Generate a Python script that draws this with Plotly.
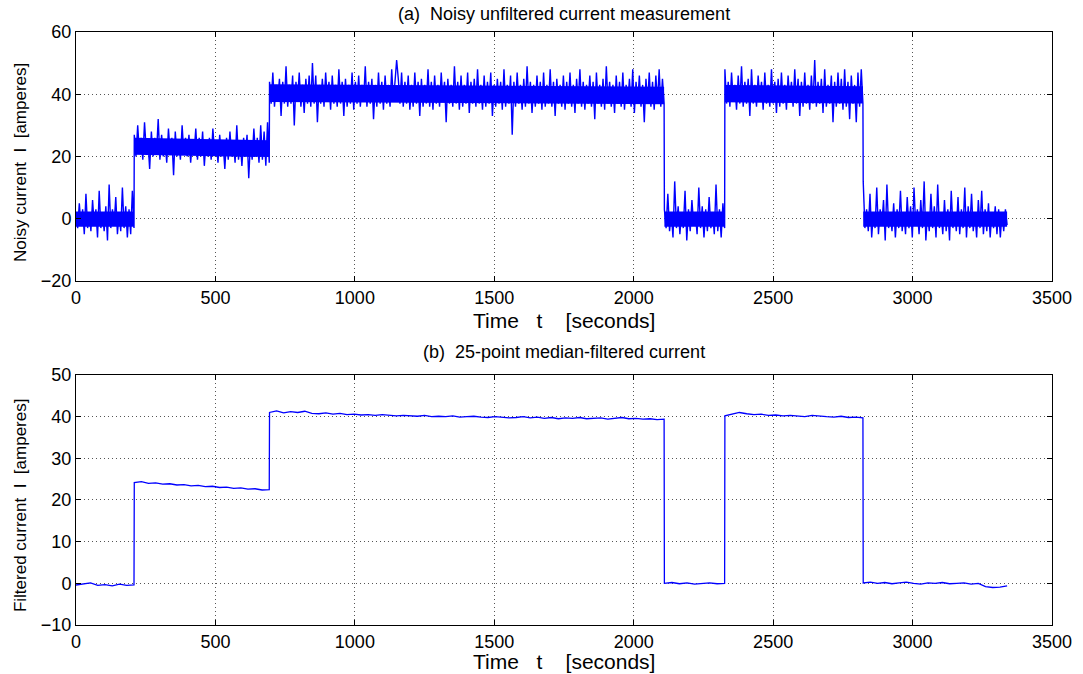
import numpy as np
import plotly.graph_objects as go

# ---------------- data ----------------
# segment boundaries in seconds (steps of the current)
seg_bounds = [0, 208, 693, 2109, 2326, 2822, 3339]

# dense core of the noisy band in each segment [A] (value at segment start / end)
core_lo_start = [-2.6, 20.6, 37.5, -2.6, 37.4, -2.6]
core_lo_end = [-2.6, 19.8, 36.8, -2.6, 37.0, -2.6]
core_hi_start = [2.3, 26.0, 43.2, 2.3, 43.0, 2.3]
core_hi_end = [2.3, 25.2, 42.4, 2.3, 42.6, 2.3]

# noisy current, alternating high / low excursions within each segment [A]
noisy_seg1 = [2, -3, 5, -2, 3, -5, 8, -3, 2, -4, 6, -2, 3, -6, 9, -3, 2, -4,
              4, -7, 11, -3, 3, -2, 7, -5, 2, -4, 10, -3, 4, -6, 3, -5, 9, -3]
noisy_seg2 = [27, 20, 30, 21, 26, 19, 31, 22, 25, 16,
              28, 20, 26, 21, 32, 19, 27, 20, 25, 18,
              29, 21, 26, 14, 28, 20, 25, 19, 30, 21,
              26, 20, 27, 18, 25, 21, 29, 19, 26, 20,
              28, 17, 25, 20, 26, 19, 29, 21, 25, 18,
              27, 20, 24, 16, 26, 19, 28, 20, 25, 18,
              30, 19, 25, 17, 26, 20, 27, 13, 25, 19,
              29, 20, 26, 18, 30, 19, 28, 17, 31, 18]
noisy_seg3 = [44, 37, 47, 36, 43, 38, 45, 33, 44, 37,
              49, 36, 43, 37, 46, 30, 44, 38, 47, 36,
              43, 34, 45, 37, 46, 36, 50, 37, 46, 31,
              43, 37, 45, 36, 47, 38, 44, 35, 46, 37,
              43, 36, 48, 37, 44, 33, 45, 36, 43, 37,
              47, 35, 44, 37, 46, 36, 43, 38, 49, 36,
              44, 37, 45, 32, 43, 36, 47, 37, 44, 35,
              46, 37, 43, 36, 48, 38, 44, 51, 45, 37,
              47, 36, 44, 37, 46, 35, 43, 36, 47, 37,
              44, 33, 45, 36, 43, 37, 48, 36, 44, 35,
              46, 37, 43, 36, 47, 38, 44, 31, 45, 37,
              43, 36, 49, 37, 44, 35, 46, 36, 43, 37,
              47, 34, 44, 37, 45, 36, 48, 37, 43, 35,
              46, 36, 44, 37, 47, 33, 43, 36, 45, 37,
              44, 35, 48, 36, 43, 37, 46, 27, 44, 36,
              47, 37, 43, 35, 45, 36, 49, 37, 44, 34,
              43, 36, 46, 37, 44, 35, 47, 36, 43, 37,
              48, 36, 44, 33, 45, 37, 43, 36, 46, 35,
              44, 37, 47, 36, 43, 34, 45, 37, 48, 36,
              44, 35, 43, 37, 46, 36, 44, 32, 47, 37,
              43, 36, 45, 35, 49, 37, 44, 36, 43, 34,
              46, 37, 44, 36, 47, 35, 43, 37, 45, 36,
              48, 34, 44, 37, 46, 36, 43, 31, 45, 37,
              47, 36, 44, 35, 46, 37, 48, 36, 45, 37]
noisy_seg4 = [3, -3, 8, -4, 2, -6, 12, -3, 4, -5, 2, -3, 9, -7, 3, -4, 6, -2,
              2, -5, 10, -3, 4, -6, 3, -4, 7, -3, 2, -5, 11, -4, 3, -6, 5, -3]
noisy_seg5 = [48, 37, 44, 36, 47, 38, 43, 35, 46, 37,
              49, 36, 44, 37, 45, 33, 48, 37, 43, 36,
              46, 38, 44, 35, 47, 37, 43, 36, 48, 37,
              44, 34, 45, 36, 47, 37, 43, 35, 46, 38,
              44, 36, 48, 37, 45, 33, 44, 36, 47, 37,
              43, 35, 46, 37, 51, 36, 44, 37, 45, 34,
              48, 36, 43, 37, 46, 31, 44, 36, 47, 37,
              45, 35, 48, 36, 44, 32, 46, 37, 43, 31,
              47, 36, 48, 37]
noisy_seg6 = [12, -3, 3, -4, 8, -6, 2, -3, 10, -5,
              3, -2, 6, -7, 11, -3, 2, -4, 5, -6,
              3, -3, 9, -4, 2, -5, 7, -3, 4, -6,
              10, -2, 3, -5, 6, -3, 12, -7, 2, -4,
              8, -3, 4, -6, 11, -3, 2, -5, 6, -4,
              3, -7, 9, -3, 2, -4, 7, -5, 3, -3,
              10, -6, 4, -3, 8, -4, 2, -6, 6, -3,
              9, -5, 3, -4, 5, -6, 2, -3, 4, -5,
              3, -6, 2, -4, 3, -2]

# 25-point median-filtered current [A]
filt_seg1 = [-0.4, -0.2, 0.1, -0.5, -0.3, -0.6, -0.2, -0.5, -0.4]
filt_seg2 = [24.2, 24.4, 24.0, 24.1, 23.8, 23.9, 23.6, 23.7, 23.4, 23.5,
             23.2, 23.3, 23.0, 23.1, 22.8, 22.9, 22.6, 22.7, 22.4, 22.5]
filt_seg3 = [41.0, 41.4, 40.9, 41.2, 41.0, 41.3, 40.8, 40.7, 40.9, 40.6,
             40.8, 40.5, 40.6, 40.4, 40.5, 40.3, 40.5, 40.4, 40.2, 40.3,
             40.2, 40.1, 40.3, 40.0, 40.1, 40.0, 40.2, 39.9, 40.0, 40.1,
             39.9, 39.8, 40.0, 39.9, 39.7, 39.8, 40.0, 39.7, 39.9, 39.6,
             39.8, 39.5, 39.7, 39.6, 39.8, 39.5, 39.6, 39.7, 39.4, 39.6,
             39.8, 39.5, 39.6, 39.4, 39.5, 39.3, 39.4]
filt_seg4 = [0.0, 0.2, -0.1, 0.1, -0.2, 0.0, 0.1, -0.1, 0.0]
filt_seg5 = [40.2, 40.6, 41.0, 40.7, 40.5, 40.6, 40.3, 40.4, 40.2, 40.3,
             40.1, 40.0, 40.3, 40.1, 40.0, 39.9, 40.1, 39.8, 39.9, 39.7]
filt_seg6 = [0.1, 0.3, 0.0, 0.2, -0.1, 0.1, 0.3, 0.0, -0.2, 0.1,
             0.0, 0.2, -0.1, 0.0, 0.1, -0.2, 0.0, -0.8, -1.0, -0.9, -0.6]

x_ticks = [0, 500, 1000, 1500, 2000, 2500, 3000, 3500]
y1_ticks = [-20, 0, 20, 40, 60]
y2_ticks = [-10, 0, 10, 20, 30, 40, 50]

title_a = "(a)\u00a0\u00a0Noisy unfiltered current measurement"
title_b = "(b)\u00a0\u00a025-point median-filtered current"
xlabel = "Time\u00a0\u00a0\u00a0t\u00a0\u00a0\u00a0\u00a0[seconds]"
ylabel_a = "Noisy current\u00a0\u00a0I\u00a0\u00a0[amperes]"
ylabel_b = "Filtered current\u00a0\u00a0I\u00a0\u00a0[amperes]"


def seg_span(i):
    return seg_bounds[i] + (1 if i > 0 else 0), seg_bounds[i + 1]


def build(segs):
    t_all, v_all = [], []
    for i, vals in enumerate(segs):
        start, end = seg_span(i)
        t_all.extend(np.linspace(start, end, len(vals)).tolist())
        v_all.extend(vals)
    return t_all, v_all


t_noisy, i_noisy = build([noisy_seg1, noisy_seg2, noisy_seg3,
                          noisy_seg4, noisy_seg5, noisy_seg6])
t_filt, i_filt = build([filt_seg1, filt_seg2, filt_seg3,
                        filt_seg4, filt_seg5, filt_seg6])

# core band polygons (one closed shape per segment)
core_x, core_y = [], []
for i in range(len(core_lo_start)):
    s, e = seg_span(i)
    core_x += [s, e, e, s, s, None]
    core_y += [core_lo_start[i], core_lo_end[i], core_hi_end[i],
               core_hi_start[i], core_lo_start[i], None]

# ---------------- figure ----------------
REG = "Liberation Sans, Arial, sans-serif"
BLUE = "#0000ff"

fig = go.Figure()
fig.add_trace(go.Scatter(x=core_x, y=core_y, mode="lines", fill="toself",
                         fillcolor=BLUE, line=dict(color=BLUE, width=0),
                         xaxis="x", yaxis="y", showlegend=False, hoverinfo="skip"))
fig.add_trace(go.Scatter(x=t_noisy, y=i_noisy, mode="lines",
                         line=dict(color=BLUE, width=1.4, simplify=False),
                         xaxis="x", yaxis="y", showlegend=False))
fig.add_trace(go.Scatter(x=t_filt, y=i_filt, mode="lines",
                         line=dict(color=BLUE, width=1.3),
                         xaxis="x2", yaxis="y2", showlegend=False))

axis_common = dict(showline=True, mirror="ticks", linecolor="black", linewidth=1,
                   ticks="inside", ticklen=5, tickcolor="black",
                   showgrid=True, gridcolor="#555555", griddash="1px,3px", gridwidth=1,
                   zeroline=False, tickfont=dict(family=REG, size=18, color="black"))

fig.update_layout(
    width=1083, height=674,
    margin=dict(l=76, r=31, t=32, b=49),
    plot_bgcolor="white", paper_bgcolor="white",
    xaxis=dict(domain=[0, 1], anchor="y", range=[0, 3500], tickvals=x_ticks, **axis_common),
    yaxis=dict(domain=[0.5801, 1], anchor="x", range=[-20, 60], tickvals=y1_ticks, **axis_common),
    xaxis2=dict(domain=[0, 1], anchor="y2", range=[0, 3500], tickvals=x_ticks, **axis_common),
    yaxis2=dict(domain=[0, 0.4216], anchor="x2", range=[-10, 50], tickvals=y2_ticks, **axis_common),
)


def py(Y):
    return (625 - Y) / 593


title_font = dict(family=REG, size=18, color="black")
xlab_font = dict(family=REG, size=21, color="black")
ylab_font = dict(family=REG, size=17, color="black")
common = dict(xref="paper", yref="paper", showarrow=False, xanchor="center", yanchor="middle")
ann = [
    dict(text=title_a, x=0.5, y=py(14), font=title_font, **common),
    dict(text=xlabel, x=0.5, y=py(320), font=xlab_font, **common),
    dict(text=title_b, x=0.5, y=py(352), font=title_font, **common),
    dict(text=xlabel, x=0.5, y=py(661), font=xlab_font, **common),
    dict(text=ylabel_a, x=-0.0573, y=py(163), textangle=-90, font=ylab_font, **common),
    dict(text=ylabel_b, x=-0.0573, y=py(505), textangle=-90, font=ylab_font, **common),
]
fig.update_layout(annotations=ann)

# remove the default 8px page margin so the figure fills the window exactly
fig.write_html("out.html", config={"displayModeBar": False},
               post_script="document.body.style.margin='0px';")
